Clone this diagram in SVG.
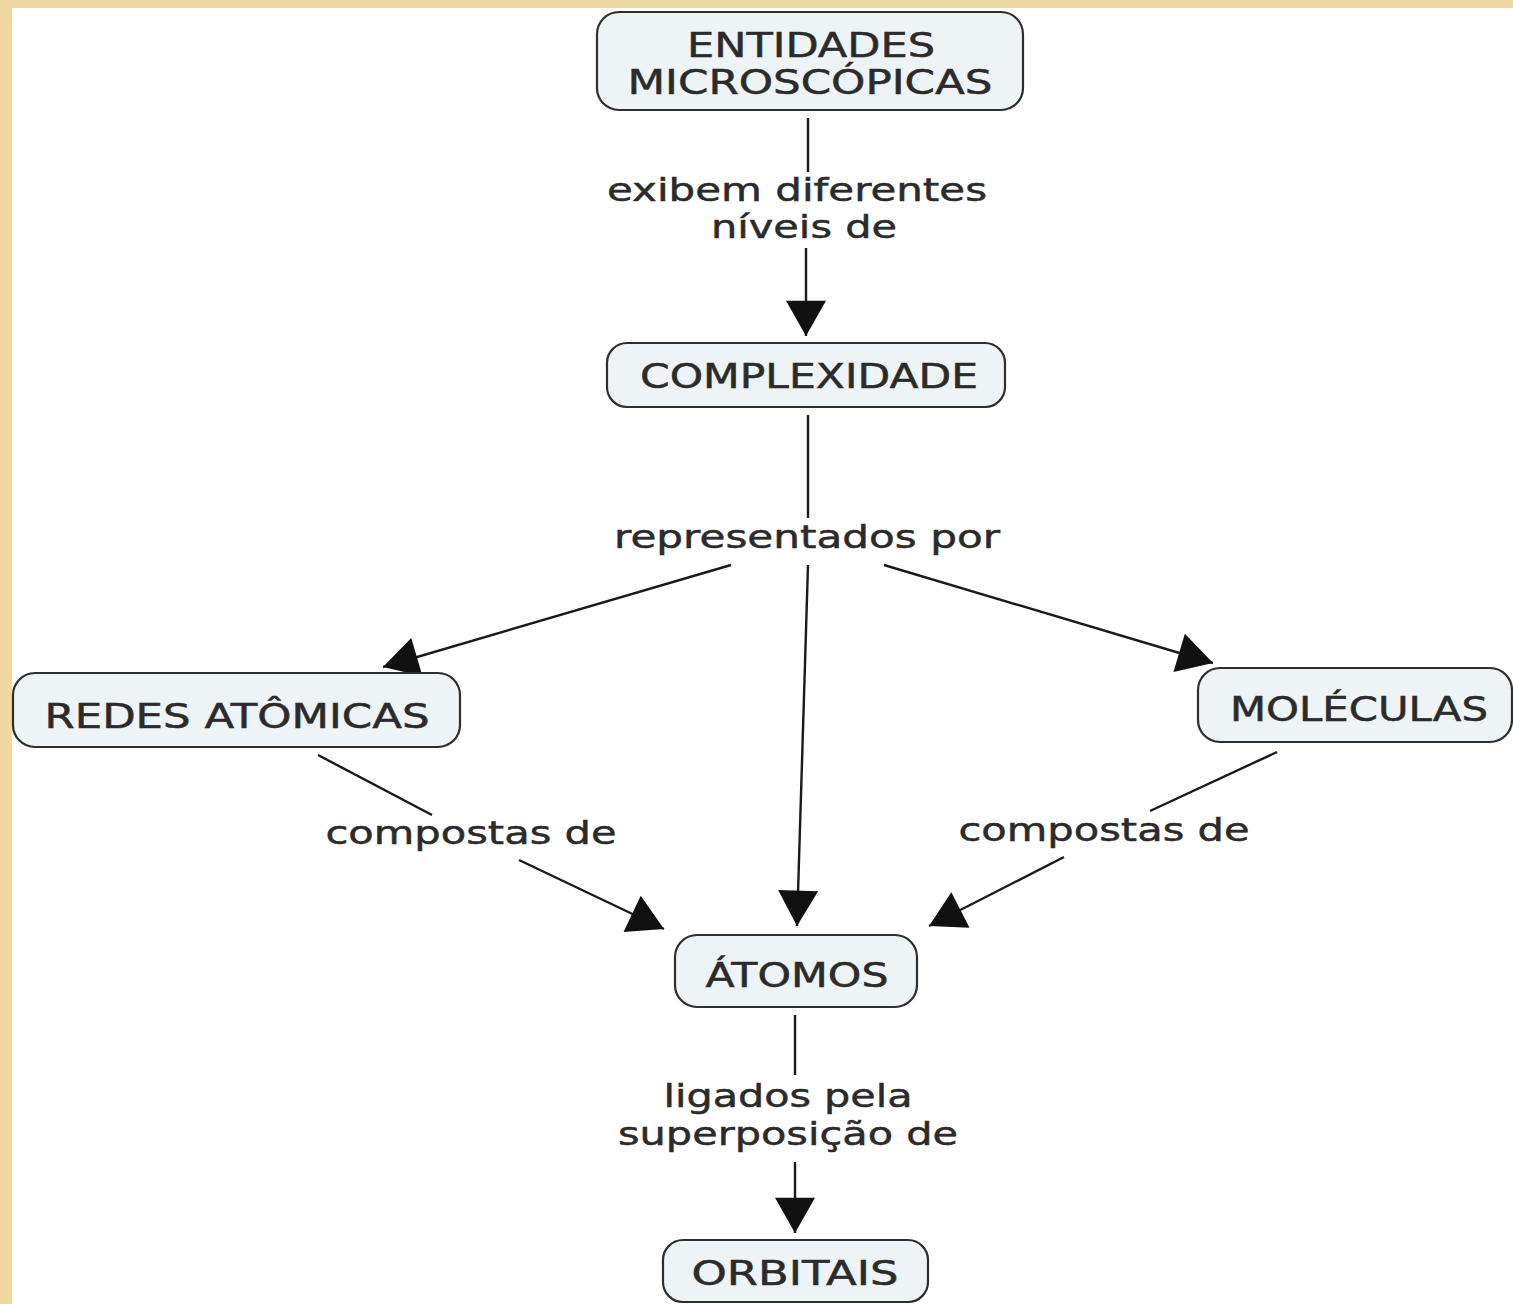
<svg xmlns="http://www.w3.org/2000/svg" width="1513" height="1304" viewBox="0 0 1513 1304">
<defs>
<style>
.node rect{fill:#eef3f5;stroke:#2e2e2e;stroke-width:2.2}
text{font-family:"DejaVu Sans",Verdana,sans-serif;font-size:33px;fill:#2b2b2b;text-anchor:middle;stroke:#2b2b2b;stroke-width:0.5}
.lbl{font-size:32px}
.conn line{stroke:#1a1a1a;stroke-width:2.4}
</style>
<marker id="ah" markerUnits="userSpaceOnUse" markerWidth="40" markerHeight="40" viewBox="0 0 30 34" refX="30" refY="17" orient="auto">
<path d="M0,0 L30,17 L0,34 Z" fill="#111"/>
</marker>
</defs>
<rect x="0" y="0" width="1513" height="1304" fill="#f0d9a0"/>
<rect x="12" y="8" width="1501" height="1296" fill="#ffffff"/>

<g class="conn">
<line x1="808" y1="118" x2="808" y2="172"/>
<line x1="806" y1="248" x2="806" y2="336" marker-end="url(#ah)"/>
<line x1="808" y1="415" x2="808" y2="518"/>
<line x1="731" y1="565" x2="383" y2="667" marker-end="url(#ah)"/>
<line x1="808" y1="565" x2="797" y2="926" marker-end="url(#ah)"/>
<line x1="884" y1="565" x2="1213" y2="663" marker-end="url(#ah)"/>
<line x1="318" y1="755" x2="432" y2="815"/>
<line x1="519" y1="860" x2="664" y2="929" marker-end="url(#ah)"/>
<line x1="1277" y1="752" x2="1150" y2="811"/>
<line x1="1064" y1="857" x2="929" y2="926" marker-end="url(#ah)"/>
<line x1="795" y1="1015" x2="795" y2="1075"/>
<line x1="795" y1="1162" x2="795" y2="1233" marker-end="url(#ah)"/>
<text class="lbl" x="797" y="201" textLength="380" lengthAdjust="spacingAndGlyphs">exibem diferentes</text>
<text class="lbl" x="804" y="238" textLength="186" lengthAdjust="spacingAndGlyphs">níveis de</text>
<text class="lbl" x="807" y="548" textLength="386" lengthAdjust="spacingAndGlyphs">representados por</text>
<text class="lbl" x="471" y="844" textLength="291" lengthAdjust="spacingAndGlyphs">compostas de</text>
<text class="lbl" x="1104" y="841" textLength="291" lengthAdjust="spacingAndGlyphs">compostas de</text>
<text class="lbl" x="788" y="1107" textLength="249" lengthAdjust="spacingAndGlyphs">ligados pela</text>
<text class="lbl" x="788" y="1145" textLength="340" lengthAdjust="spacingAndGlyphs">superposição de</text>
</g>

<g id="entidades" class="node">
<rect x="597" y="12" width="426" height="98" rx="22"/>
<text x="811" y="57" textLength="248" lengthAdjust="spacingAndGlyphs">ENTIDADES</text>
<text x="810" y="94" textLength="365" lengthAdjust="spacingAndGlyphs">MICROSCÓPICAS</text>
</g>
<g id="complexidade" class="node">
<rect x="607" y="343" width="398" height="64" rx="20"/>
<text x="809" y="388" textLength="338" lengthAdjust="spacingAndGlyphs">COMPLEXIDADE</text>
</g>
<g id="redes" class="node">
<rect x="13" y="673" width="447" height="74" rx="22"/>
<text x="237" y="728" textLength="385" lengthAdjust="spacingAndGlyphs">REDES ATÔMICAS</text>
</g>
<g id="moleculas" class="node">
<rect x="1198" y="668" width="314" height="74" rx="22"/>
<text x="1359" y="721" textLength="258" lengthAdjust="spacingAndGlyphs">MOLÉCULAS</text>
</g>
<g id="atomos" class="node">
<rect x="675" y="935" width="242" height="72" rx="22"/>
<text x="797" y="987" textLength="183" lengthAdjust="spacingAndGlyphs">ÁTOMOS</text>
</g>
<g id="orbitais" class="node">
<rect x="663" y="1240" width="265" height="62" rx="20"/>
<text x="795" y="1285" textLength="207" lengthAdjust="spacingAndGlyphs">ORBITAIS</text>
</g>
</svg>
